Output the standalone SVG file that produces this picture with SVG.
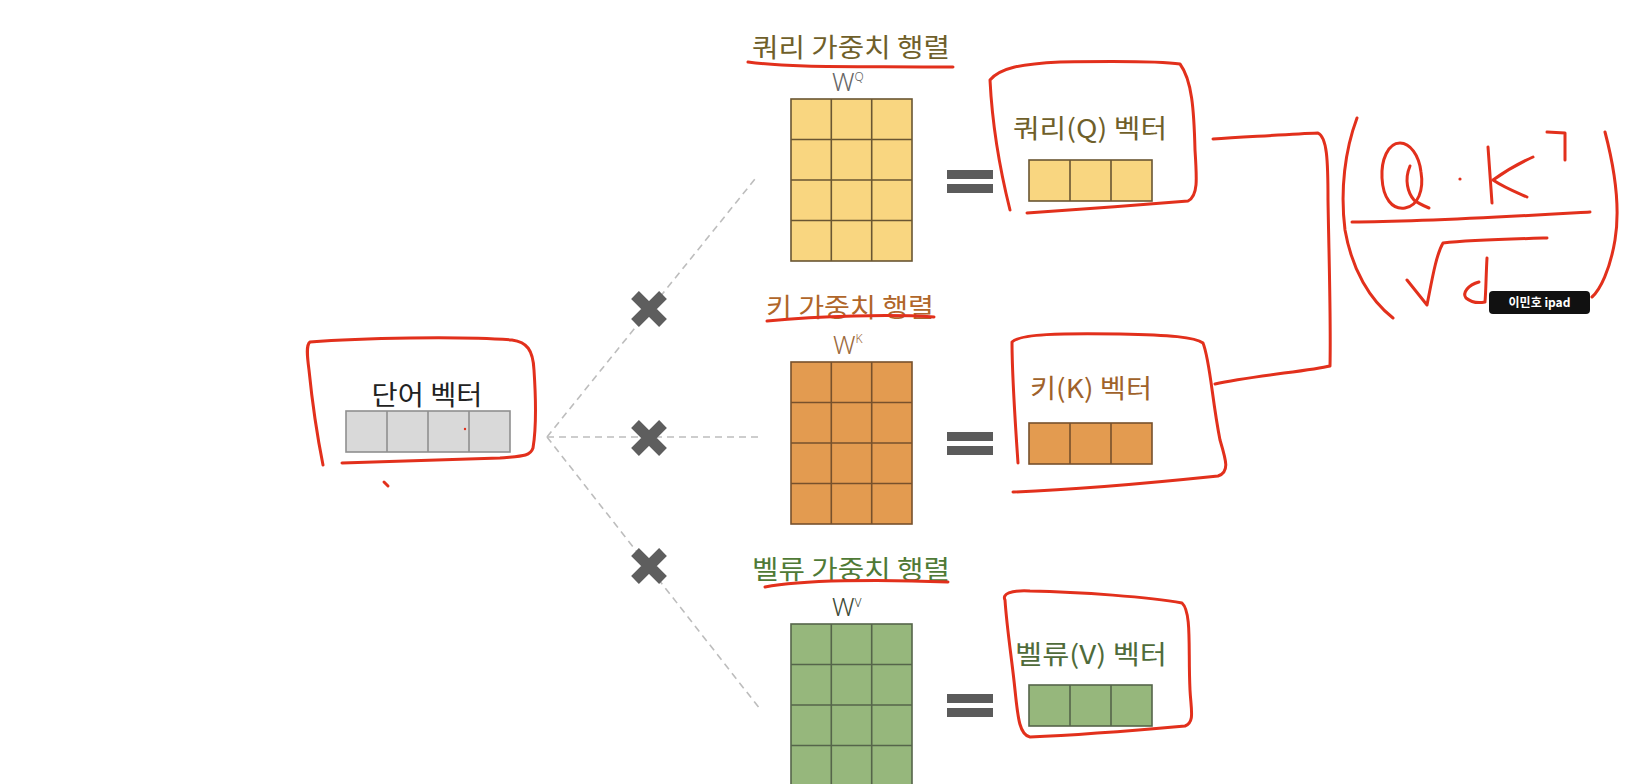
<svg xmlns="http://www.w3.org/2000/svg" width="1628" height="784" viewBox="0 0 1628 784">
<style>
.kr{font-family:"Noto Sans CJK KR","Noto Sans",sans-serif;}
.w{font-family:"Noto Sans","Liberation Sans",sans-serif;font-weight:300;}
.pen{fill:none;stroke:#e2301c;stroke-width:3;stroke-linecap:round;stroke-linejoin:round;}
.dash{fill:none;stroke:#bdbdbd;stroke-width:1.6;stroke-dasharray:7 5;}
.eq{fill:#5b5b5b;}
.xm{stroke:#5e5e5e;stroke-width:11;}
.cq{fill:#f9d680;stroke:#6a5632;stroke-width:1.6;}
.ck{fill:#e39b50;stroke:#77512c;stroke-width:1.6;}
.cv{fill:#96b77c;stroke:#55654a;stroke-width:1.6;}
.cw{fill:#d9d9d9;stroke:#8f8f8f;stroke-width:1.6;}
</style>
<rect width="1628" height="784" fill="#ffffff"/>

<g id="connectors">
  <path class="dash" d="M547 437 L755 179"/>
  <path class="dash" d="M547 437 L758 437"/>
  <path class="dash" d="M547 437 L760 709"/>
  <path class="pen" d="M1213 139 C1250 137 1290 134 1318 133 C1327 137 1328 160 1328 200 C1329 260 1331 320 1330 366 C1310 371 1250 376 1215 384"/>
</g>

<g id="times-marks">
  <g id="x-query"><path class="xm" d="M635 295 L663 323 M663 295 L635 323"/></g>
  <g id="x-key"><path class="xm" d="M635 424 L663 452 M663 424 L635 452"/></g>
  <g id="x-value"><path class="xm" d="M635 552 L663 580 M663 552 L635 580"/></g>
</g>

<g id="word-vector">
  <text class="kr" x="427" y="405" font-size="27" fill="#222" text-anchor="middle" textLength="111" lengthAdjust="spacingAndGlyphs">단어 벡터</text>
  <rect class="cw" x="346" y="411" width="164" height="41"/>
  <path class="cw" d="M387 411 V452 M428 411 V452 M469 411 V452" fill="none"/>
  <path class="pen" d="M323 465 C318 440 312 400 309 370 C307 355 306 345 310 342 C360 338 460 336 512 340 C527 342 533 350 534 370 C536 400 536 430 533 448 C530 457 520 456 500 458 C440 460 380 462 342 463"/>
  <path class="pen" d="M384 482 L388 486"/>
  <circle cx="465" cy="429" r="1.2" fill="#e2301c"/>
</g>

<g id="query-weight">
  <text class="kr" x="851" y="57" font-size="26" fill="#6f5f2a" text-anchor="middle" textLength="198" lengthAdjust="spacingAndGlyphs">쿼리 가중치 행렬</text>
  <path class="pen" d="M748 62 C790 68 860 66 953 67"/>
  <text class="w" x="832" y="91" font-size="25" fill="#666">W<tspan font-size="12" dy="-10">Q</tspan></text>
  <rect class="cq" x="791" y="99" width="121" height="162"/>
  <path class="cq" fill="none" d="M831.3 99 V261 M871.7 99 V261 M791 139.5 H912 M791 180 H912 M791 220.5 H912"/>
</g>

<g id="key-weight">
  <text class="kr" x="850" y="317" font-size="26" fill="#b0662a" text-anchor="middle" textLength="168" lengthAdjust="spacingAndGlyphs">키 가중치 행렬</text>
  <path class="pen" d="M767 321 C820 316 890 314 934 317"/>
  <text class="w" x="833" y="354" font-size="25" fill="#9c6a3c">W<tspan font-size="12" dy="-11">K</tspan></text>
  <rect class="ck" x="791" y="362" width="121" height="162"/>
  <path class="ck" fill="none" d="M831.3 362 V524 M871.7 362 V524 M791 402.5 H912 M791 443 H912 M791 483.5 H912"/>
</g>

<g id="value-weight">
  <text class="kr" x="851" y="579" font-size="26" fill="#4f7a36" text-anchor="middle" textLength="198" lengthAdjust="spacingAndGlyphs">벨류 가중치 행렬</text>
  <path class="pen" d="M765 587 C800 580 880 579 948 582"/>
  <text class="w" x="832" y="616" font-size="25" fill="#3d4a35">W<tspan font-size="12" dy="-9">V</tspan></text>
  <rect class="cv" x="791" y="624" width="121" height="162"/>
  <path class="cv" fill="none" d="M831.3 624 V786 M871.7 624 V786 M791 664.5 H912 M791 705 H912 M791 745.5 H912"/>
</g>

<g id="equals">
  <rect class="eq" x="947" y="170" width="46" height="9"/>
  <rect class="eq" x="947" y="184" width="46" height="9"/>
  <rect class="eq" x="947" y="432" width="46" height="9"/>
  <rect class="eq" x="947" y="446" width="46" height="9"/>
  <rect class="eq" x="947" y="694" width="46" height="9"/>
  <rect class="eq" x="947" y="708" width="46" height="9"/>
</g>

<g id="query-vector">
  <text class="kr" x="1090" y="138" font-size="26" fill="#6f5f2a" text-anchor="middle" textLength="154" lengthAdjust="spacingAndGlyphs">쿼리(Q) 벡터</text>
  <rect class="cq" x="1029" y="160" width="123" height="41"/>
  <path class="cq" fill="none" d="M1070 160 V201 M1111 160 V201"/>
  <path class="pen" d="M1010 210 C1000 170 992 120 990 80 C1000 68 1020 64 1060 62 C1120 61 1160 61 1180 64 C1192 80 1194 110 1195 150 C1197 180 1198 196 1188 201 C1140 205 1070 210 1027 213"/>
</g>

<g id="key-vector">
  <text class="kr" x="1091" y="398" font-size="26" fill="#a0622a" text-anchor="middle" textLength="122" lengthAdjust="spacingAndGlyphs">키(K) 벡터</text>
  <rect class="ck" x="1029" y="423" width="123" height="41"/>
  <path class="ck" fill="none" d="M1070 423 V464 M1111 423 V464"/>
  <path class="pen" d="M1018 463 C1015 420 1012 370 1012 342 C1020 334 1060 333 1120 334 C1170 335 1195 337 1203 343 C1210 360 1212 400 1220 440 C1226 460 1230 472 1218 476 C1160 482 1070 490 1013 492"/>
</g>

<g id="value-vector">
  <text class="kr" x="1091" y="664" font-size="26" fill="#4f6b3a" text-anchor="middle" textLength="152" lengthAdjust="spacingAndGlyphs">벨류(V) 벡터</text>
  <rect class="cv" x="1029" y="685" width="123" height="41"/>
  <path class="cv" fill="none" d="M1070 685 V726 M1111 685 V726"/>
  <path class="pen" d="M1005 600 C1002 594 1010 590 1030 591 C1080 592 1150 597 1182 603 C1192 612 1188 650 1190 690 C1191 710 1195 722 1185 726 C1140 730 1080 735 1030 737 C1020 735 1018 720 1015 690 C1012 660 1007 630 1005 600 Z"/>
</g>

<g id="formula">
  <path class="pen" d="M1357 118 C1345 150 1340 190 1345 230 C1352 270 1370 300 1393 318"/>
  <path class="pen" d="M1605 132 C1615 170 1620 210 1615 240 C1610 270 1600 290 1592 297"/>
  <path class="pen" d="M1400 143 C1388 143 1381 160 1382 178 C1383 198 1392 210 1405 208 C1418 206 1424 190 1421 172 C1419 155 1410 143 1400 143 Z"/>
  <path class="pen" d="M1410 166 C1404 180 1408 193 1414 200 C1419 204 1424 206 1429 208"/>
  <circle cx="1460" cy="179" r="1.6" fill="#e2301c"/>
  <path class="pen" d="M1488 147 L1492 203"/>
  <path class="pen" d="M1533 157 C1515 165 1500 175 1493 180 C1505 188 1518 193 1527 197"/>
  <path class="pen" d="M1547 132 L1565 133 L1565 160"/>
  <path class="pen" d="M1352 222 C1420 222 1520 216 1590 212"/>
  <path class="pen" d="M1407 280 L1427 305 C1432 280 1436 255 1443 243 C1470 240 1510 239 1547 238"/>
  <path class="pen" d="M1487 258 C1486 275 1486 290 1485 302 M1479 282 C1468 285 1462 293 1466 298 C1472 303 1480 303 1485 302"/>
</g>

<g id="badge">
  <rect x="1489" y="291" width="101" height="23" rx="4" fill="#111"/>
  <text class="kr" x="1539.5" y="307" font-size="12" font-weight="bold" fill="#fff" text-anchor="middle">이민호 ipad</text>
</g>
</svg>
